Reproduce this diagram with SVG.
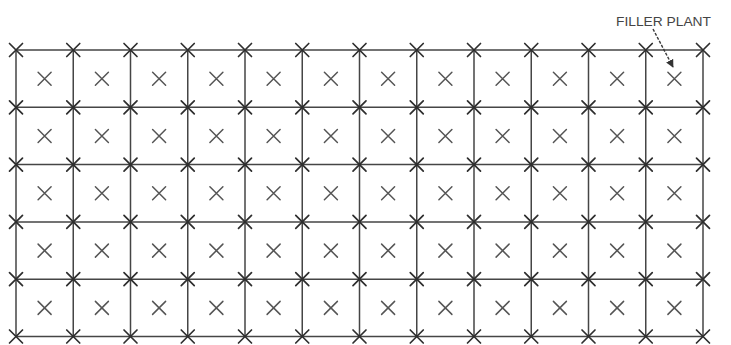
<svg xmlns="http://www.w3.org/2000/svg" xmlns:xlink="http://www.w3.org/1999/xlink" width="731" height="345" viewBox="0 0 731 345">
<style>
.grid line{stroke:#454545;stroke-width:1.5}
.jx{stroke:#2e2e2e;stroke-width:1.7;stroke-linecap:round;fill:none}
.px{stroke:#555;stroke-width:1.5;stroke-linecap:round;fill:none}
.lbl{font-family:"Liberation Sans",Arial,sans-serif;font-size:13.5px;fill:#444}
.conn{stroke:#3a3a3a;stroke-width:1.4;stroke-dasharray:3 1.5;fill:none}
</style>
<defs>
<path id="J" class="jx" d="M-6.5,-6.5L6.5,6.5M-6.5,6.5L6.5,-6.5"/>
<path id="P" class="px" d="M-6.5,-6.5L6.5,6.5M-6.5,6.5L6.5,-6.5"/>
<marker id="ah" viewBox="0 0 10 10" refX="9" refY="5" markerWidth="8" markerHeight="8" orient="auto" markerUnits="userSpaceOnUse">
<path d="M0,0L10,5L0,10z" fill="#333"/>
</marker>
</defs>
<rect width="731" height="345" fill="#fff"/>
<g id="grid" class="grid">
<line x1="16" y1="50" x2="703" y2="50"/>
<line x1="16" y1="107.3" x2="703" y2="107.3"/>
<line x1="16" y1="164.6" x2="703" y2="164.6"/>
<line x1="16" y1="221.9" x2="703" y2="221.9"/>
<line x1="16" y1="279.2" x2="703" y2="279.2"/>
<line x1="16" y1="336.5" x2="703" y2="336.5"/>
<line x1="16" y1="50" x2="16" y2="336.5"/>
<line x1="73.25" y1="50" x2="73.25" y2="336.5"/>
<line x1="130.5" y1="50" x2="130.5" y2="336.5"/>
<line x1="187.75" y1="50" x2="187.75" y2="336.5"/>
<line x1="245" y1="50" x2="245" y2="336.5"/>
<line x1="302.25" y1="50" x2="302.25" y2="336.5"/>
<line x1="359.5" y1="50" x2="359.5" y2="336.5"/>
<line x1="416.75" y1="50" x2="416.75" y2="336.5"/>
<line x1="474" y1="50" x2="474" y2="336.5"/>
<line x1="531.25" y1="50" x2="531.25" y2="336.5"/>
<line x1="588.5" y1="50" x2="588.5" y2="336.5"/>
<line x1="645.75" y1="50" x2="645.75" y2="336.5"/>
<line x1="703" y1="50" x2="703" y2="336.5"/>
</g>
<g id="corner-plants">
<g transform="translate(0,50)"><use href="#J" x="16"/><use href="#J" x="73.25"/><use href="#J" x="130.5"/><use href="#J" x="187.75"/><use href="#J" x="245"/><use href="#J" x="302.25"/><use href="#J" x="359.5"/><use href="#J" x="416.75"/><use href="#J" x="474"/><use href="#J" x="531.25"/><use href="#J" x="588.5"/><use href="#J" x="645.75"/><use href="#J" x="703"/></g>
<g transform="translate(0,107.3)"><use href="#J" x="16"/><use href="#J" x="73.25"/><use href="#J" x="130.5"/><use href="#J" x="187.75"/><use href="#J" x="245"/><use href="#J" x="302.25"/><use href="#J" x="359.5"/><use href="#J" x="416.75"/><use href="#J" x="474"/><use href="#J" x="531.25"/><use href="#J" x="588.5"/><use href="#J" x="645.75"/><use href="#J" x="703"/></g>
<g transform="translate(0,164.6)"><use href="#J" x="16"/><use href="#J" x="73.25"/><use href="#J" x="130.5"/><use href="#J" x="187.75"/><use href="#J" x="245"/><use href="#J" x="302.25"/><use href="#J" x="359.5"/><use href="#J" x="416.75"/><use href="#J" x="474"/><use href="#J" x="531.25"/><use href="#J" x="588.5"/><use href="#J" x="645.75"/><use href="#J" x="703"/></g>
<g transform="translate(0,221.9)"><use href="#J" x="16"/><use href="#J" x="73.25"/><use href="#J" x="130.5"/><use href="#J" x="187.75"/><use href="#J" x="245"/><use href="#J" x="302.25"/><use href="#J" x="359.5"/><use href="#J" x="416.75"/><use href="#J" x="474"/><use href="#J" x="531.25"/><use href="#J" x="588.5"/><use href="#J" x="645.75"/><use href="#J" x="703"/></g>
<g transform="translate(0,279.2)"><use href="#J" x="16"/><use href="#J" x="73.25"/><use href="#J" x="130.5"/><use href="#J" x="187.75"/><use href="#J" x="245"/><use href="#J" x="302.25"/><use href="#J" x="359.5"/><use href="#J" x="416.75"/><use href="#J" x="474"/><use href="#J" x="531.25"/><use href="#J" x="588.5"/><use href="#J" x="645.75"/><use href="#J" x="703"/></g>
<g transform="translate(0,336.5)"><use href="#J" x="16"/><use href="#J" x="73.25"/><use href="#J" x="130.5"/><use href="#J" x="187.75"/><use href="#J" x="245"/><use href="#J" x="302.25"/><use href="#J" x="359.5"/><use href="#J" x="416.75"/><use href="#J" x="474"/><use href="#J" x="531.25"/><use href="#J" x="588.5"/><use href="#J" x="645.75"/><use href="#J" x="703"/></g>
</g>
<g id="filler-plants">
<g transform="translate(0,78.7)"><use href="#P" x="44.6"/><use href="#P" x="101.9"/><use href="#P" x="159.1"/><use href="#P" x="216.4"/><use href="#P" x="273.6"/><use href="#P" x="330.9"/><use href="#P" x="388.1"/><use href="#P" x="445.4"/><use href="#P" x="502.6"/><use href="#P" x="559.9"/><use href="#P" x="617.1"/><use href="#P" x="674.4"/></g>
<g transform="translate(0,136)"><use href="#P" x="44.6"/><use href="#P" x="101.9"/><use href="#P" x="159.1"/><use href="#P" x="216.4"/><use href="#P" x="273.6"/><use href="#P" x="330.9"/><use href="#P" x="388.1"/><use href="#P" x="445.4"/><use href="#P" x="502.6"/><use href="#P" x="559.9"/><use href="#P" x="617.1"/><use href="#P" x="674.4"/></g>
<g transform="translate(0,193.3)"><use href="#P" x="44.6"/><use href="#P" x="101.9"/><use href="#P" x="159.1"/><use href="#P" x="216.4"/><use href="#P" x="273.6"/><use href="#P" x="330.9"/><use href="#P" x="388.1"/><use href="#P" x="445.4"/><use href="#P" x="502.6"/><use href="#P" x="559.9"/><use href="#P" x="617.1"/><use href="#P" x="674.4"/></g>
<g transform="translate(0,250.6)"><use href="#P" x="44.6"/><use href="#P" x="101.9"/><use href="#P" x="159.1"/><use href="#P" x="216.4"/><use href="#P" x="273.6"/><use href="#P" x="330.9"/><use href="#P" x="388.1"/><use href="#P" x="445.4"/><use href="#P" x="502.6"/><use href="#P" x="559.9"/><use href="#P" x="617.1"/><use href="#P" x="674.4"/></g>
<g transform="translate(0,307.9)"><use href="#P" x="44.6"/><use href="#P" x="101.9"/><use href="#P" x="159.1"/><use href="#P" x="216.4"/><use href="#P" x="273.6"/><use href="#P" x="330.9"/><use href="#P" x="388.1"/><use href="#P" x="445.4"/><use href="#P" x="502.6"/><use href="#P" x="559.9"/><use href="#P" x="617.1"/><use href="#P" x="674.4"/></g>
</g>
<g id="label-filler-plant">
<text class="lbl" x="616" y="26" textLength="95" lengthAdjust="spacingAndGlyphs">FILLER PLANT</text>
</g>
<g id="connectors">
<path class="conn" d="M653,29L673,67" marker-end="url(#ah)"/>
</g>
</svg>
